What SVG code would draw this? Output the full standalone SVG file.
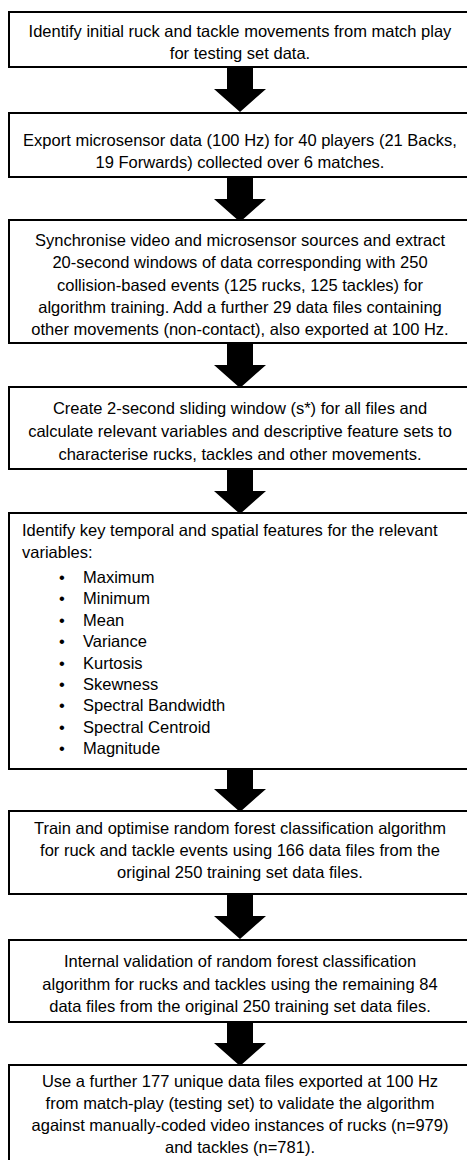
<svg xmlns="http://www.w3.org/2000/svg" width="467" height="1160" viewBox="0 0 467 1160">
<style>
.box{fill:#fff;stroke:#000;stroke-width:2}
.t{font-family:"Liberation Sans",Arial,sans-serif;font-size:16.5px;fill:#000;text-anchor:middle}
.l{font-family:"Liberation Sans",Arial,sans-serif;font-size:16.5px;fill:#000}
.arr{fill:#000}
</style>
<defs>
<path id="arrow" d="M-13,0 H13 V21 H26 L0,44 L-26,21 H-13 Z"/>
</defs>
<rect width="467" height="1160" fill="#fff"/>
<g id="connectors">
<use href="#arrow" class="arr" x="240" y="68"/>
<use href="#arrow" class="arr" x="240" y="178"/>
<use href="#arrow" class="arr" x="240" y="344"/>
<use href="#arrow" class="arr" x="240" y="470"/>
<use href="#arrow" class="arr" x="240" y="768" transform="translate(0,0)"/>
<use href="#arrow" class="arr" x="240" y="895"/>
<use href="#arrow" class="arr" x="240" y="1022"/>
</g>
<g id="n1">
<rect class="box" x="9" y="12" width="470" height="55"/>
<text class="t" x="240" y="37">Identify initial ruck and tackle movements from match play</text>
<text class="t" x="240" y="59">for testing set data.</text>
</g>
<g id="n2">
<rect class="box" x="9" y="113" width="470" height="64"/>
<text class="t" x="240" y="146">Export microsensor data (100 Hz) for 40 players (21 Backs,</text>
<text class="t" x="240" y="168">19 Forwards) collected over 6 matches.</text>
</g>
<g id="n3">
<rect class="box" x="9" y="220" width="470" height="123"/>
<text class="t" x="240" y="246">Synchronise video and microsensor sources and extract</text>
<text class="t" x="240" y="268">20-second windows of data corresponding with 250</text>
<text class="t" x="240" y="291">collision-based events (125 rucks, 125 tackles) for</text>
<text class="t" x="240" y="313">algorithm training. Add a further 29 data files containing</text>
<text class="t" x="240" y="335">other movements (non-contact), also exported at 100 Hz.</text>
</g>
<g id="n4">
<rect class="box" x="9" y="387" width="470" height="82"/>
<text class="t" x="240" y="414">Create 2-second sliding window (s*) for all files and</text>
<text class="t" x="240" y="437">calculate relevant variables and descriptive feature sets to</text>
<text class="t" x="240" y="460">characterise rucks, tackles and other movements.</text>
</g>
<g id="n5">
<rect class="box" x="9" y="513" width="470" height="256"/>
<text class="l" x="22" y="536">Identify key temporal and spatial features for the relevant</text>
<text class="l" x="22" y="558">variables:</text>
<g class="l">
<text x="59" y="583">•</text><text x="83" y="583">Maximum</text>
<text x="59" y="604.4">•</text><text x="83" y="604.4">Minimum</text>
<text x="59" y="625.8">•</text><text x="83" y="625.8">Mean</text>
<text x="59" y="647.2">•</text><text x="83" y="647.2">Variance</text>
<text x="59" y="668.6">•</text><text x="83" y="668.6">Kurtosis</text>
<text x="59" y="690">•</text><text x="83" y="690">Skewness</text>
<text x="59" y="711.4">•</text><text x="83" y="711.4">Spectral Bandwidth</text>
<text x="59" y="732.8">•</text><text x="83" y="732.8">Spectral Centroid</text>
<text x="59" y="754.2">•</text><text x="83" y="754.2">Magnitude</text>
</g>
</g>
<g id="n6">
<rect class="box" x="9" y="811" width="470" height="83"/>
<text class="t" x="240" y="834">Train and optimise random forest classification algorithm</text>
<text class="t" x="240" y="856">for ruck and tackle events using 166 data files from the</text>
<text class="t" x="240" y="878">original 250 training set data files.</text>
</g>
<g id="n7">
<rect class="box" x="9" y="940" width="470" height="82"/>
<text class="t" x="240" y="967">Internal validation of random forest classification</text>
<text class="t" x="240" y="990">algorithm for rucks and tackles using the remaining 84</text>
<text class="t" x="240" y="1012">data files from the original 250 training set data files.</text>
</g>
<g id="n8">
<rect class="box" x="9" y="1065" width="470" height="110"/>
<text class="t" x="240" y="1087">Use a further 177 unique data files exported at 100 Hz</text>
<text class="t" x="240" y="1109">from match-play (testing set) to validate the algorithm</text>
<text class="t" x="240" y="1131">against manually-coded video instances of rucks (n=979)</text>
<text class="t" x="240" y="1153">and tackles (n=781).</text>
</g>
</svg>
